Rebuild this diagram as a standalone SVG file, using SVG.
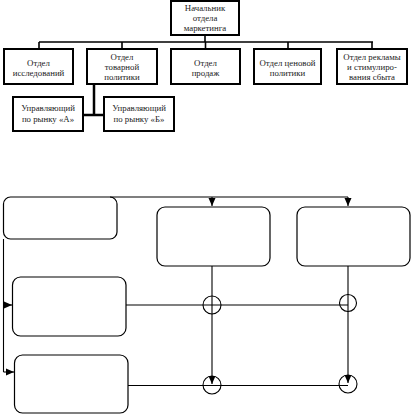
<svg xmlns="http://www.w3.org/2000/svg" width="412" height="415" viewBox="0 0 412 415">
<style>
.org rect{fill:#fff;stroke:#000;stroke-width:2}
.t{font-family:"Liberation Serif","Times New Roman",serif;font-size:8.8px;fill:#222;text-anchor:middle}
.cn{fill:none;stroke:#000;stroke-width:1.6}
.thick{fill:none;stroke:#000;stroke-width:2.5}
.flow rect{fill:#fff;stroke:#000;stroke-width:1.2}
.fl{fill:none;stroke:#000;stroke-width:1.1}
.ci{fill:none;stroke:#000;stroke-width:1.1}
</style>
<defs>
<marker id="ah" viewBox="0 0 8 8" refX="8" refY="4" markerWidth="8" markerHeight="8" markerUnits="userSpaceOnUse" orient="auto">
<path d="M0,0.5 L8,4 L0,7.5 Z" fill="#000"/>
</marker>
</defs>
<rect width="412" height="415" fill="#fff"/>

<g id="connectors-top">
<path class="cn" d="M205,35 V42 M39,42 H373 M39,42 V49 M122,42 V49 M205.5,42 V49 M288,42 V49 M372,42 V49"/>
<path class="thick" d="M94,84 V115 M83,115 H104"/>
</g>

<g id="head" class="org"><rect x="171" y="1" width="68" height="34"/>
<text class="t" x="205" y="11">Начальник</text><text class="t" x="205" y="21">отдела</text><text class="t" x="205" y="30.5">маркетинга</text></g>
<g id="d1" class="org"><rect x="4" y="49" width="69" height="35"/>
<text class="t" x="38.5" y="65.5">Отдел</text><text class="t" x="38.5" y="75.5">исследований</text></g>
<g id="d2" class="org"><rect x="87" y="49" width="70" height="35"/>
<text class="t" x="122" y="59.5">Отдел</text><text class="t" x="122" y="69.5">товарной</text><text class="t" x="122" y="79.5">политики</text></g>
<g id="d3" class="org"><rect x="171" y="49" width="69" height="35"/>
<text class="t" x="205.5" y="65.5">Отдел</text><text class="t" x="205.5" y="75.5">продаж</text></g>
<g id="d4" class="org"><rect x="254" y="49" width="67" height="35"/>
<text class="t" x="287.5" y="65.5">Отдел ценовой</text><text class="t" x="287.5" y="75.5">политики</text></g>
<g id="d5" class="org"><rect x="337" y="49" width="70" height="35"/>
<text class="t" x="372" y="59.5">Отдел рекламы</text><text class="t" x="372" y="69.5">и стимулиро-</text><text class="t" x="372" y="79.5">вания сбыта</text></g>
<g id="ma" class="org"><rect x="13" y="97" width="70" height="34"/>
<text class="t" x="48" y="111">Управляющий</text><text class="t" x="48" y="121.5">по рынку «А»</text></g>
<g id="mb" class="org"><rect x="104" y="97" width="70" height="34"/>
<text class="t" x="139" y="111">Управляющий</text><text class="t" x="139" y="121.5">по рынку «Б»</text></g>

<g id="flow-nodes" class="flow">
<g id="f1"><rect x="3.5" y="197" width="113.5" height="42" rx="7"/></g>
<g id="f2"><rect x="157" y="207" width="113" height="59" rx="8"/></g>
<g id="f3"><rect x="297" y="207" width="113" height="59" rx="8"/></g>
<g id="f4"><rect x="12.5" y="277" width="113.5" height="59" rx="8"/></g>
<g id="f5"><rect x="14.5" y="355" width="113.5" height="58" rx="8"/></g>
</g>

<g id="flow-connectors">
<path class="fl" d="M110,197 H348"/>
<path class="fl" d="M212,197 V206" marker-end="url(#ah)"/>
<path class="fl" d="M348,197 V206" marker-end="url(#ah)"/>
<path class="fl" d="M3.5,239 V372"/>
<path class="fl" d="M3.5,305 H12" marker-end="url(#ah)"/>
<path class="fl" d="M3.5,372 H14" marker-end="url(#ah)"/>
<path class="fl" d="M126,305 H348"/>
<path class="fl" d="M128,385.5 H348"/>
<path class="fl" d="M212,266 V384" marker-end="url(#ah)"/>
<path class="fl" d="M348,266 V383" marker-end="url(#ah)"/>
<circle class="ci" cx="212" cy="305" r="9"/>
<circle class="ci" cx="212" cy="385" r="9"/>
<circle class="ci" cx="348" cy="303" r="8.5"/>
<circle class="ci" cx="348" cy="384" r="9"/>
</g>
</svg>
